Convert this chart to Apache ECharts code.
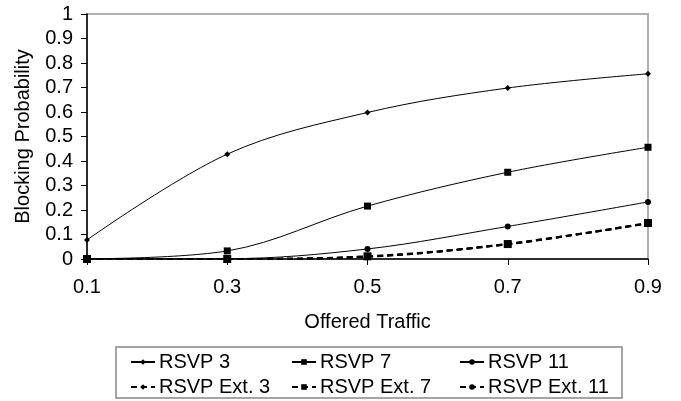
<!DOCTYPE html>
<html>
<head>
<meta charset="utf-8">
<script src="https://cdn.jsdelivr.net/npm/echarts@6/dist/echarts.min.js"></script>
<style>
  html, body { margin: 0; padding: 0; background: #fff; }
  #chart { width: 681px; height: 401px; }
</style>
</head>
<body>
<div id="chart"></div>
<script>
// Offered traffic load points (x axis categories)
const trafficLevels = ['0.1', '0.3', '0.5', '0.7', '0.9'];

// Blocking probability per signalling scheme
const rsvp3     = [0.078, 0.428, 0.598, 0.698, 0.756];
const rsvp7     = [0.001, 0.033, 0.216, 0.354, 0.456];
const rsvp11    = [0.000, 0.001, 0.041, 0.133, 0.233];
const rsvpExt3  = [0.000, 0.000, 0.010, 0.060, 0.146];
const rsvpExt7  = [0.000, 0.000, 0.011, 0.061, 0.147];
const rsvpExt11 = [0.000, 0.000, 0.009, 0.062, 0.145];

const yTicks = [0, 0.1, 0.2, 0.3, 0.4, 0.5, 0.6, 0.7, 0.8, 0.9, 1];

const FONT = '"Liberation Sans", Arial, sans-serif';
const chart = echarts.init(document.getElementById('chart'), null, { renderer: 'canvas' });

function lineSeries(name, data, symbol, size, dashed, z) {
  return {
    name: name,
    type: 'line',
    data: data,
    smooth: 0.35,
    symbol: symbol,
    symbolSize: size,
    showSymbol: true,
    z: z,
    itemStyle: { color: '#000' },
    lineStyle: { color: '#000', width: dashed ? 2 : 1, type: dashed ? [6, 4] : 'solid' },
    emphasis: { disabled: true }
  };
}

function legendCol(left, names) {
  return {
    orient: 'vertical',
    left: left,
    top: 352,
    itemWidth: 24,
    itemHeight: 7,
    itemGap: 5,
    padding: 0,
    data: names,
    selectedMode: false,
    textStyle: { fontFamily: FONT, fontSize: 20, color: '#000', padding: [0, 0, 0, -1] }
  };
}

chart.setOption({
  animation: false,
  backgroundColor: '#fff',
  grid: {
    left: 87, right: 33, top: 14, bottom: 142,
    show: true, borderColor: '#b0b0b0', borderWidth: 2
  },
  xAxis: {
    type: 'category',
    data: trafficLevels,
    boundaryGap: false,
    name: 'Offered Traffic',
    nameLocation: 'middle',
    nameGap: 53,
    nameTextStyle: { fontFamily: FONT, fontSize: 20, color: '#000' },
    axisLine: { lineStyle: { color: '#000', width: 1.5 } },
    axisTick: { show: true, inside: false, length: 6, interval: 0, lineStyle: { color: '#000' } },
    axisLabel: { fontFamily: FONT, fontSize: 20, color: '#000', margin: 18, interval: 0 },
    splitLine: { show: false }
  },
  yAxis: {
    type: 'value',
    min: 0, max: 1, interval: 0.1,
    name: 'Blocking Probability',
    nameLocation: 'middle',
    nameRotate: 90,
    nameGap: 54,
    nameTextStyle: { fontFamily: FONT, fontSize: 20, color: '#000' },
    axisLine: { show: true, lineStyle: { color: '#000', width: 1.5 } },
    axisTick: { show: true, inside: false, length: 6, lineStyle: { color: '#000' } },
    axisLabel: {
      fontFamily: FONT, fontSize: 20, color: '#000', margin: 14,
      formatter: function (v) {
        const t = yTicks.find(function (k) { return Math.abs(k - v) < 1e-9; });
        return String(t !== undefined ? t : v);
      }
    },
    splitLine: { show: false }
  },
  legend: [
    legendCol(130, ['RSVP 3', 'RSVP Ext. 3']),
    legendCol(291, ['RSVP 7', 'RSVP Ext. 7']),
    legendCol(459, ['RSVP 11', 'RSVP Ext. 11'])
  ],
  graphic: [{
    type: 'rect',
    shape: { x: 116, y: 347, width: 506, height: 51 },
    style: { fill: 'none', stroke: '#888', lineWidth: 1.5 },
    silent: true
  }],
  series: [
    lineSeries('RSVP 3', rsvp3, 'diamond', 6, false, 3),
    lineSeries('RSVP 7', rsvp7, 'rect', 7, false, 3),
    lineSeries('RSVP 11', rsvp11, 'circle', 6, false, 3),
    lineSeries('RSVP Ext. 3', rsvpExt3, 'diamond', 6, true, 4),
    lineSeries('RSVP Ext. 7', rsvpExt7, 'rect', 8, true, 6),
    lineSeries('RSVP Ext. 11', rsvpExt11, 'circle', 7, true, 5)
  ]
});
</script>
</body>
</html>
